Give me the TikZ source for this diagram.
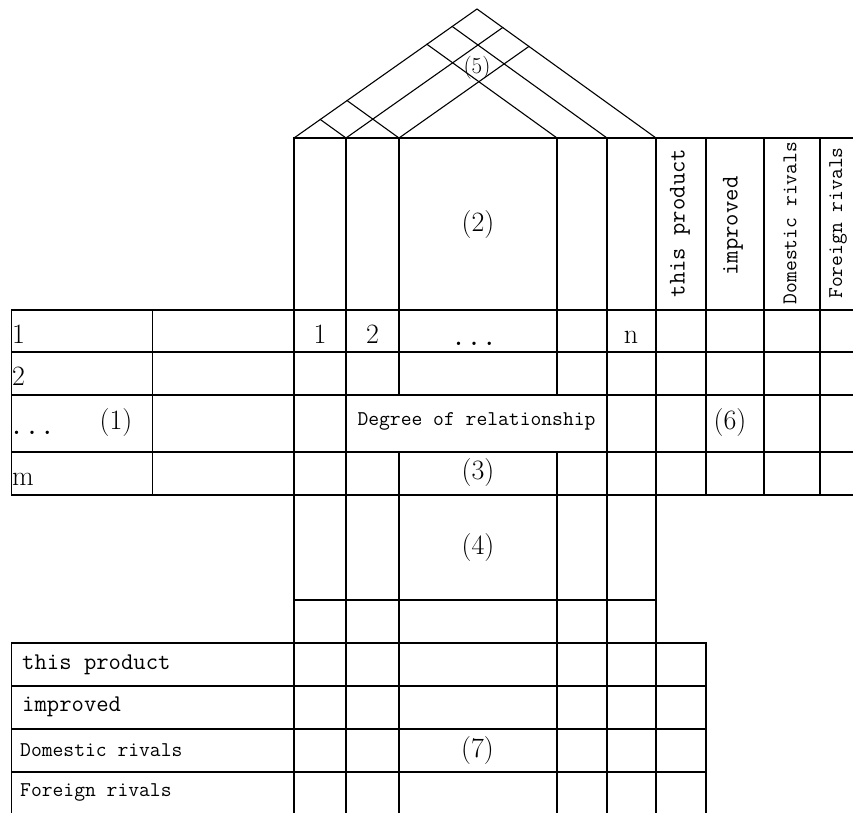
\documentclass[tikz,border=0pt]{standalone}
\usepackage{fontspec}
\begin{document}
\begin{tikzpicture}[x=1pt,y=-1pt,
  gl/.style={line width=1.1pt,line cap=rect,black},
  lab/.style={font=\fontsize{28}{28}\selectfont,inner sep=0pt},
  labs/.style={font=\fontsize{23}{23}\selectfont,inner sep=0pt},
  ttbig/.style={font=\fontsize{24}{24}\selectfont\ttfamily,inner sep=0pt},
  ttsmall/.style={font=\fontsize{21}{21}\selectfont\ttfamily,inner sep=0pt},
  dots/.style={font=\fontsize{30}{30}\selectfont\ttfamily,inner sep=0pt}]
\useasboundingbox (0,0) rectangle (853,812);
% roof
\coordinate (A) at (477,9);
\coordinate (L) at (294,138);
\coordinate (R) at (656,138);
\draw[gl] (L) -- (A) -- (R);
\coordinate (b1) at (346,138);
\coordinate (b2) at (399,138);
\coordinate (b3) at (557,138);
\coordinate (b4) at (607,138);
\draw[gl] (b1) -- (320.29,119.47);
\draw[gl] (b2) -- (347.08,100.58);
\draw[gl] (b3) -- (426.95,44.28);
\draw[gl] (b4) -- (452.23,26.46);
\draw[gl] (b1) -- (502.71,27.53);
\draw[gl] (b2) -- (528.92,46.42);
% horizontal lines
\draw[gl] (294,138) -- (853,138);
\foreach \yy in {310,352,395,452,495} \draw[gl] (11.5,\yy) -- (853,\yy);
\draw[gl] (294,600) -- (656,600);
\foreach \yy in {643,686,729,772} \draw[gl] (11.5,\yy) -- (706,\yy);
% vertical lines
\draw[gl] (11.5,310) -- (11.5,495);
\draw[gl] (152.5,310) -- (152.5,495);
\draw[gl] (11.5,643) -- (11.5,812);
\foreach \xx in {294,346,607,656} \draw[gl] (\xx,138) -- (\xx,812);
\foreach \xx in {399,557} {\draw[gl] (\xx,138) -- (\xx,395); \draw[gl] (\xx,452) -- (\xx,812);}
\draw[gl] (706,138) -- (706,495);
\draw[gl] (706,643) -- (706,812);
\draw[gl] (764,138) -- (764,495);
\draw[gl] (820,138) -- (820,495);
% labels
\node[labs] (l5) at (477,68) {(5)};
\node[lab] (l2) at (478,225) {(2)};
\node[lab] (l1) at (116,423) {(1)};
\node[lab] (l6) at (730,423) {(6)};
\node[lab] (l3) at (478,473) {(3)};
\node[lab] (l4) at (478,548) {(4)};
\node[lab] (l7) at (477.5,750) {(7)};
% rotated headers
\node[ttbig,rotate=90] (h1) at (680,223) {this product};
\node[ttbig,rotate=90] (h2) at (733,226) {improved};
\node[ttsmall,rotate=90] (h3) at (790,223) {Domestic rivals};
\node[ttsmall,rotate=90] (h4) at (838,223) {Foreign rivals};
% left row labels
\node[lab,anchor=base west] (r1) at (12,343) {1};
\node[lab,anchor=base west] (r2) at (12,385) {2};
\node[dots,anchor=base] (r3) at (32,434) {...};
\node[lab,anchor=base west] (r4) at (12,485) {m};
% header row numbers
\node[lab,anchor=base] (c1) at (320,343) {1};
\node[lab,anchor=base] (c2) at (372.5,343) {2};
\node[dots,anchor=base] (c3) at (474,345) {...};
\node[lab,anchor=base] (c4) at (631,343) {n};
\node[ttsmall] (deg) at (476.5,421) {Degree of relationship};
% bottom-left rows
\node[ttbig,anchor=west] (p1) at (22,665) {this product};
\node[ttbig,anchor=west] (p2) at (22,707) {improved};
\node[ttsmall,anchor=west] (p3) at (20,750) {Domestic rivals};
\node[ttsmall,anchor=west] (p4) at (20,792) {Foreign rivals};
\end{tikzpicture}
\end{document}
